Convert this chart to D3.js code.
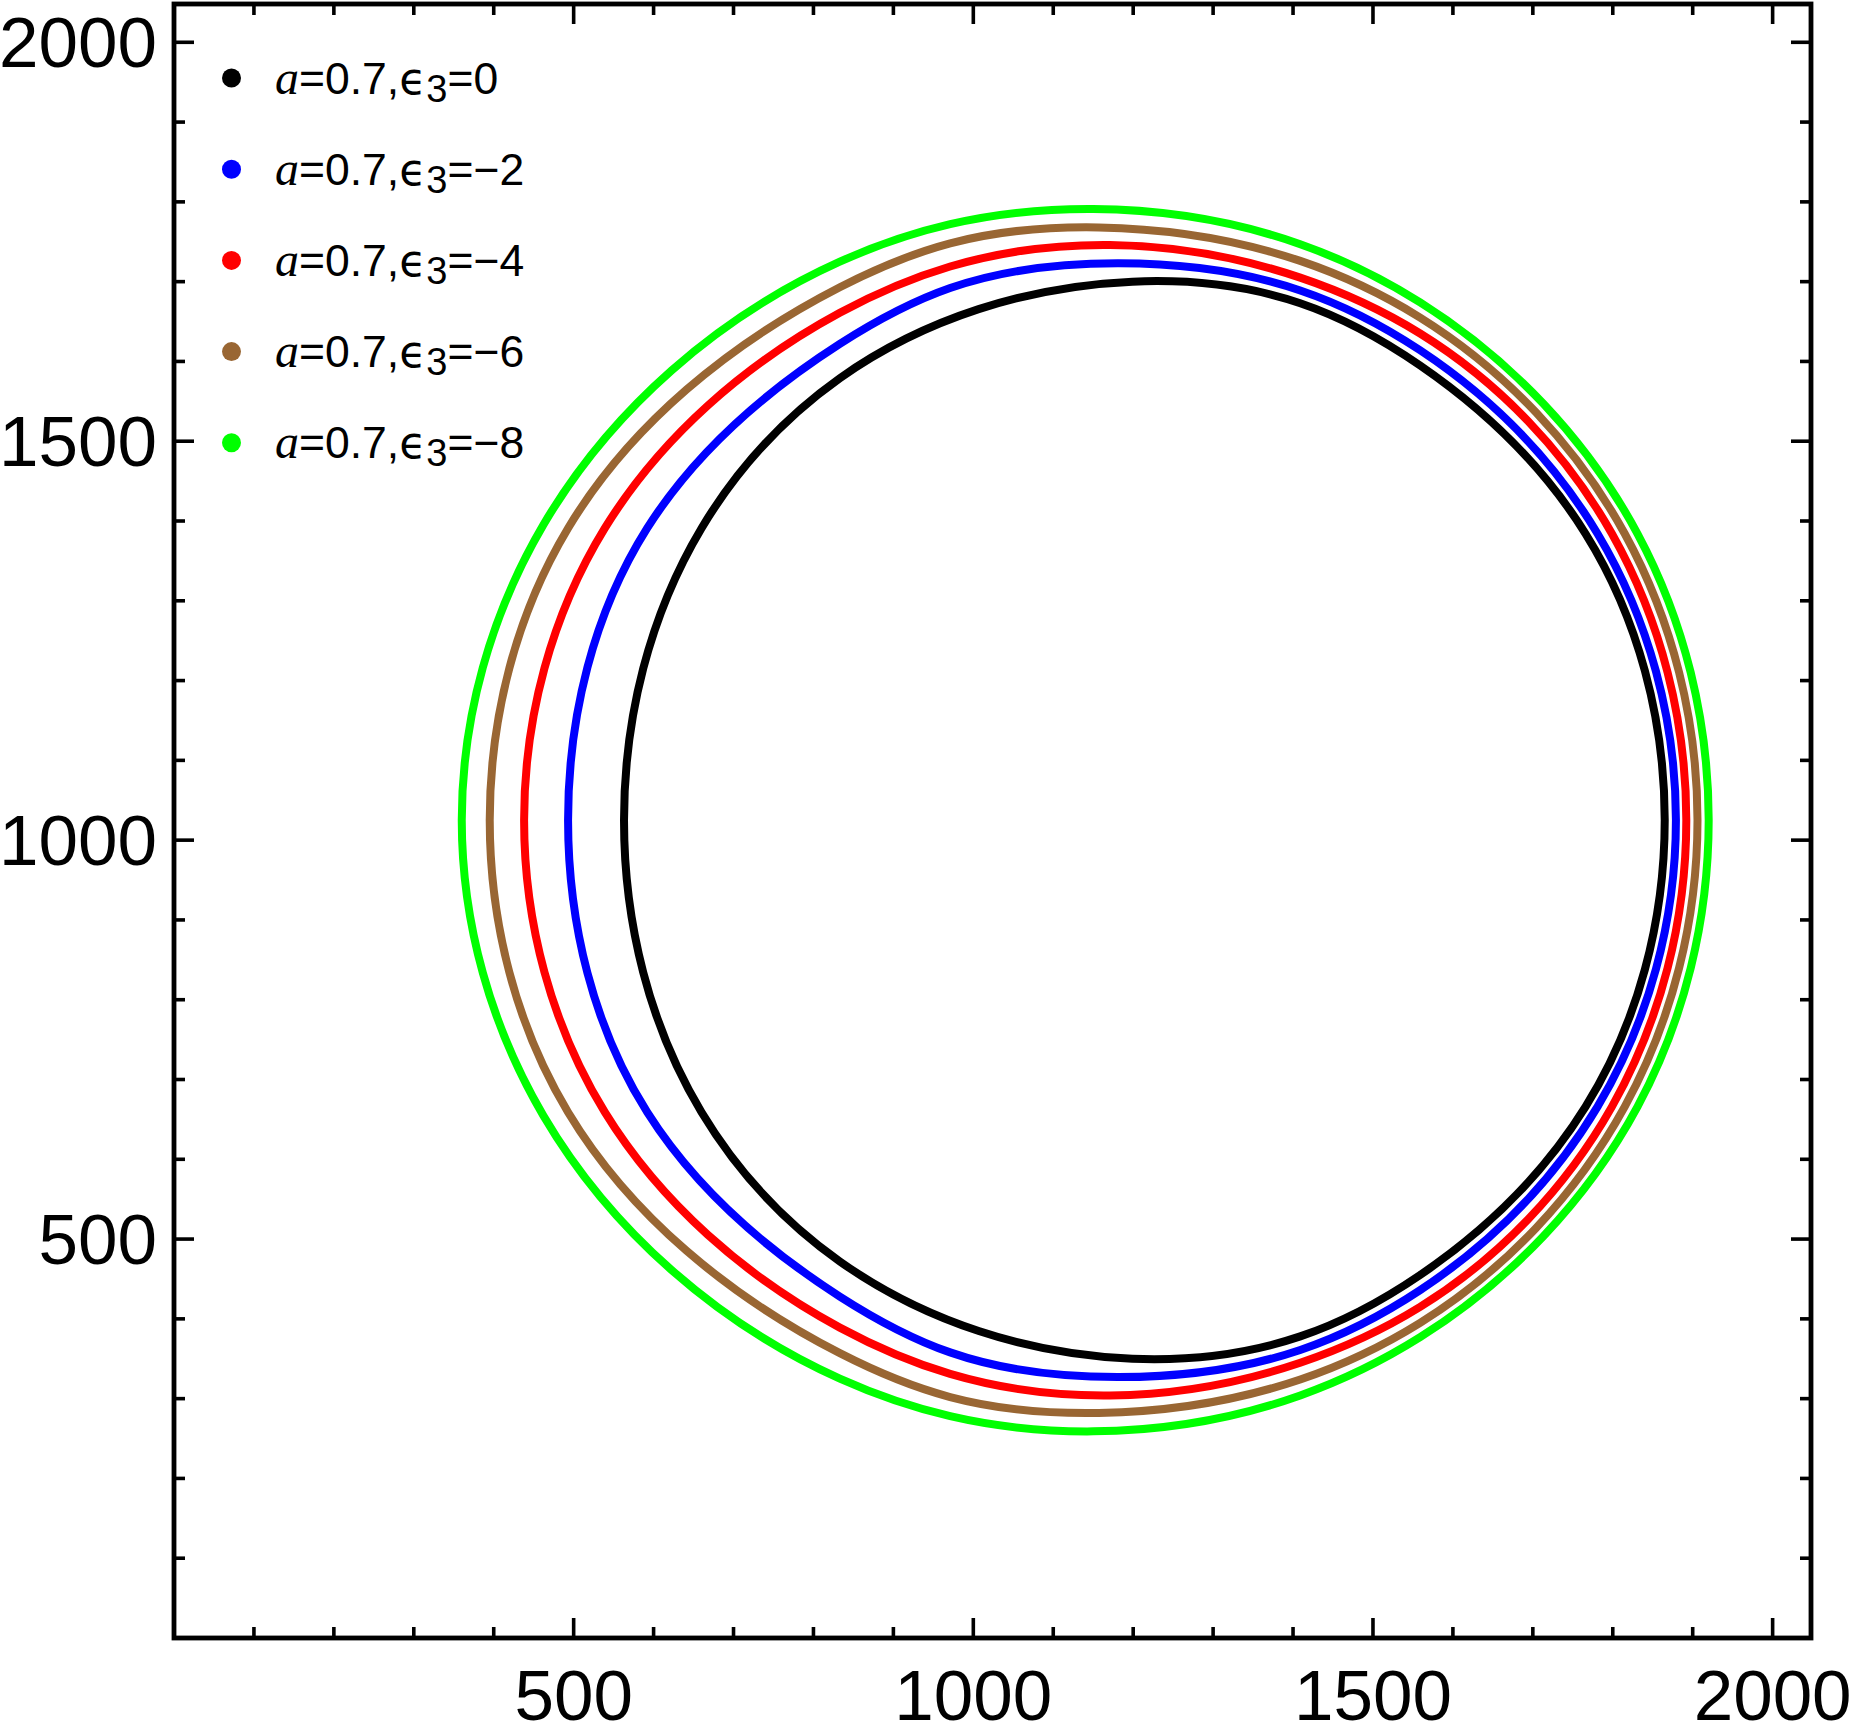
<!DOCTYPE html>
<html><head><meta charset="utf-8">
<script src="https://cdn.jsdelivr.net/npm/d3@7/dist/d3.min.js"></script>
<style>body{margin:0;background:#fff}svg{display:block}</style>
</head><body>
<svg id="c" width="1852" height="1734"></svg>
<script>
// ---- data (image pixel coordinates, 0..2048) ----
const epsilonValues = ["0", "\u22122", "\u22124", "\u22126", "\u22128"];
const seriesColors = ["#000000", "#0000ff", "#ff0000", "#996633", "#00ff00"];

const curveEps0 = [[563,1025],[660,1391],[833,1579],[1199,1700],[1409,1673],[1559,1595],[1766,1384],[1865,1025],
                   [1766,666],[1559,455],[1409,378],[1199,350],[833,472],[660,659]];
const curveEps2 = [[493,1025],[592,1391],[833,1622],[971,1692],[1182,1723],[1409,1689],[1559,1614],[1781,1384],[1879,1025],
                   [1781,666],[1559,436],[1409,361],[1182,327],[971,358],[833,428],[592,659]];
const curveEps4 = [[438,1025],[539,1391],[833,1661],[971,1719],[1171,1746],[1409,1705],[1559,1635],[1799,1384],[1892,1025],
                   [1799,666],[1559,415],[1409,345],[1171,304],[971,331],[833,389],[539,659]];
const curveEps6 = [[395,1025],[493,1391],[833,1693],[971,1748],[1157,1768],[1409,1726],[1559,1655],[1815,1384],[1906,1025],
                   [1815,666],[1559,395],[1409,324],[1157,282],[971,302],[833,357],[493,659]];
const curveEps8 = [[360,1025],[462,1395],[833,1725],[971,1772],[1150,1791],[1409,1747],[1559,1674],[1831,1384],[1920,1025],
                   [1831,666],[1559,377],[1409,304],[1150,259],[971,278],[833,325],[462,655]];
const curves = [curveEps0, curveEps2, curveEps4, curveEps6, curveEps8];

const majorTicks = [500, 1000, 1500, 2000];
const minorTicks = [100,200,300,400,600,700,800,900,1100,1200,1300,1400,1600,1700,1800,1900];
const domainX = [0, 2048];
const domainY = [0, 2048];

// ---- closed C2 cubic spline (chord-length knots) as a d3 curve ----
function ClosedSpline(context) { this._context = context; }
ClosedSpline.prototype = {
  areaStart() {}, areaEnd() {},
  lineStart() { this._x = []; this._y = []; },
  point(px, py) { this._x.push(+px); this._y.push(+py); },
  lineEnd() {
    const X = this._x, Y = this._y, n = X.length, c = this._context;
    if (n < 3) return;
    const m = i => (i + n) % n;
    const h = [];
    for (let i = 0; i < n; i++) h.push(Math.hypot(X[m(i + 1)] - X[i], Y[m(i + 1)] - Y[i]) || 1);
    const dx = new Array(n).fill(0), dy = new Array(n).fill(0);
    for (let it = 0; it < 400; it++) {
      for (let i = 0; i < n; i++) {
        const hp = h[m(i - 1)], hn = h[i];
        const rx = 3 * (hn * (X[i] - X[m(i - 1)]) / hp + hp * (X[m(i + 1)] - X[i]) / hn);
        const ry = 3 * (hn * (Y[i] - Y[m(i - 1)]) / hp + hp * (Y[m(i + 1)] - Y[i]) / hn);
        dx[i] = (rx - hn * dx[m(i - 1)] - hp * dx[m(i + 1)]) / (2 * (hp + hn));
        dy[i] = (ry - hn * dy[m(i - 1)] - hp * dy[m(i + 1)]) / (2 * (hp + hn));
      }
    }
    c.moveTo(X[0], Y[0]);
    for (let i = 0; i < n; i++) {
      const j = m(i + 1), k = h[i] / 3;
      c.bezierCurveTo(X[i] + dx[i] * k, Y[i] + dy[i] * k, X[j] - dx[j] * k, Y[j] - dy[j] * k, X[j], Y[j]);
    }
    c.closePath();
  }
};
const curveClosedSpline = ctx => new ClosedSpline(ctx);

// ---- layout ----
const L = 174, R = 1811, T = 4, B = 1638;
const svg = d3.select("#c");
const x = d3.scaleLinear().domain(domainX).range([L, R]);
const y = d3.scaleLinear().domain(domainY).range([B, T]);

// curves
const line = d3.line().x(d => x(d[0])).y(d => y(d[1])).curve(curveClosedSpline);
svg.append("g").selectAll("path").data(curves).join("path")
  .attr("d", d => line(d))
  .attr("fill", "none")
  .attr("stroke", (d, i) => seriesColors[i])
  .attr("stroke-width", 8)
  .attr("stroke-linejoin", "round");

// frame
const tickW = 3.6, majorLen = 20, minorLen = 11;
const g = svg.append("g").attr("stroke", "#000");
function ticks(vals, len) {
  vals.forEach(v => {
    g.append("line").attr("x1", x(v)).attr("x2", x(v)).attr("y1", B).attr("y2", B - len).attr("stroke-width", tickW);
    g.append("line").attr("x1", x(v)).attr("x2", x(v)).attr("y1", T).attr("y2", T + len).attr("stroke-width", tickW);
    g.append("line").attr("y1", y(v)).attr("y2", y(v)).attr("x1", L).attr("x2", L + len).attr("stroke-width", tickW);
    g.append("line").attr("y1", y(v)).attr("y2", y(v)).attr("x1", R).attr("x2", R - len).attr("stroke-width", tickW);
  });
}
ticks(majorTicks, majorLen);
ticks(minorTicks, minorLen);
svg.append("rect").attr("x", L).attr("y", T).attr("width", R - L).attr("height", B - T)
  .attr("fill", "none").attr("stroke", "#000").attr("stroke-width", 4.8);

// tick labels
const font = "'Liberation Sans', Arial, sans-serif";
svg.append("g").selectAll("text").data(majorTicks).join("text")
  .attr("x", d => x(d)).attr("y", 1720)
  .attr("text-anchor", "middle").attr("font-family", font).attr("font-size", 71)
  .text(d => d);
svg.append("g").selectAll("text").data(majorTicks).join("text")
  .attr("x", 157).attr("y", d => y(d) + 25)
  .attr("text-anchor", "end").attr("font-family", font).attr("font-size", 71)
  .text(d => d);

// legend
const lg = svg.append("g");
epsilonValues.forEach((e, i) => {
  const cy = 78 + i * 91.2;
  lg.append("circle").attr("cx", 231.5).attr("cy", cy).attr("r", 9.5).attr("fill", seriesColors[i]);
  const t = lg.append("text").attr("x", 275).attr("y", cy + 15.5)
    .attr("font-family", font).attr("font-size", 44.5);
  t.append("tspan").attr("font-family", "'Liberation Serif', serif").attr("font-style", "italic").attr("font-size", 48).text("a");
  t.append("tspan").text("=0.7,");
  t.append("tspan").attr("font-family", "'DejaVu Sans', sans-serif").attr("font-size", 44).text("\u03F5");
  t.append("tspan").attr("font-size", 38).attr("dy", 8).text("3");
  t.append("tspan").attr("dy", -8).text("=" + e);
});
</script>
</body></html>
